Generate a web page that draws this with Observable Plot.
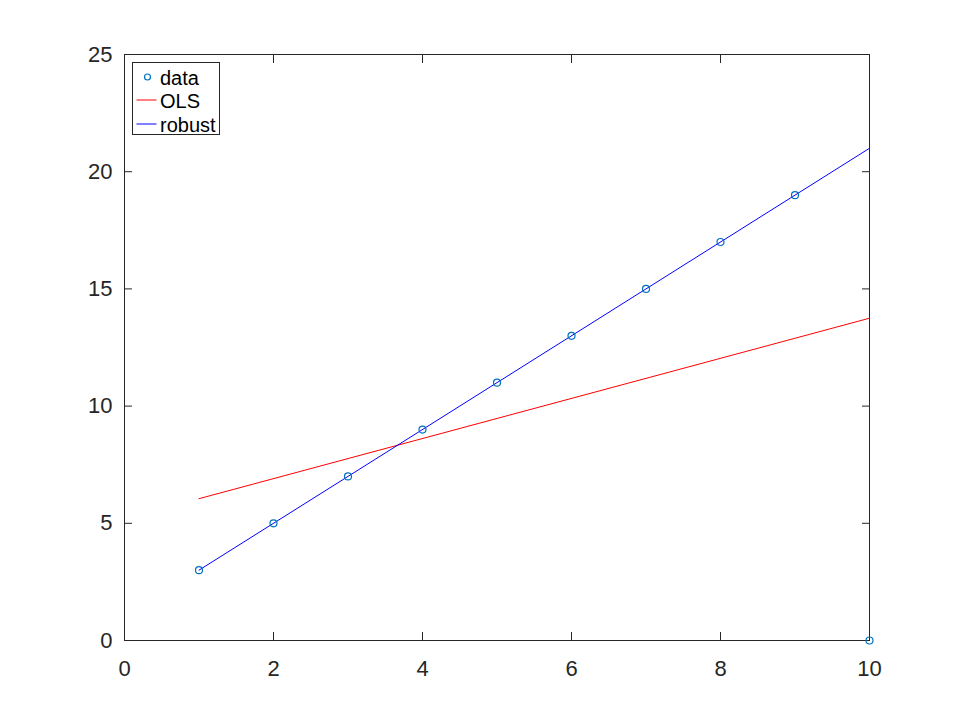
<!DOCTYPE html>
<html>
<head>
<meta charset="utf-8">
<script src="https://cdn.jsdelivr.net/npm/d3@7"></script>
<script src="https://cdn.jsdelivr.net/npm/@observablehq/plot@0.6"></script>
<style>
  body { margin: 0; background: #fff; }
  #wrap { position: relative; width: 960px; height: 720px; font-family: "Liberation Sans", Arial, sans-serif; }
  #legend { position: absolute; left: 132px; top: 62px; width: 88px; height: 73px; border: 1px solid #262626; background: #fff; box-sizing: border-box; }
  #legend svg { position: absolute; left: 0; top: 0; }
</style>
</head>
<body>
<div id="wrap"></div>
<script>
const dataX = [1, 2, 3, 4, 5, 6, 7, 8, 9, 10];
const dataY = [3, 5, 7, 9, 11, 13, 15, 17, 19, 0];
const fitX = [1, 10];
const olsY = [6.05, 13.75];
const robustY = [3, 21];
const xTicks = [0, 2, 4, 6, 8, 10];
const yTicks = [0, 5, 10, 15, 20, 25];
const legendLabels = ["data", "OLS", "robust"];

const points = dataX.map((x, i) => ({x, y: dataY[i]}));
const ols = fitX.map((x, i) => ({x, y: olsY[i]}));
const robust = fitX.map((x, i) => ({x, y: robustY[i]}));

const axisColor = "#262626";
const font = 22;

const chart = Plot.plot({
  width: 960,
  height: 720,
  marginLeft: 124,
  marginRight: 91,
  marginTop: 54,
  marginBottom: 80,
  style: {fontFamily: '"Liberation Sans", Arial, sans-serif', fontSize: font + "px", color: axisColor, background: "#fff"},
  x: {domain: [0, 10], ticks: xTicks},
  y: {domain: [0, 25], ticks: yTicks},
  marks: [
    Plot.frame({stroke: axisColor}),
    Plot.axisX({ticks: xTicks, tickSize: 0, tickPadding: 20, label: null, fontSize: font, fill: axisColor}),
    Plot.axisY({ticks: yTicks, tickSize: 0, tickPadding: 12, label: null, fontSize: font, fill: axisColor}),
    Plot.axisX({ticks: xTicks, tickSize: -8, tickFormat: () => "", label: null, stroke: axisColor}),
    Plot.axisY({ticks: yTicks, tickSize: -8, tickFormat: () => "", label: null, stroke: axisColor}),
    Plot.axisX({ticks: xTicks, anchor: "top", tickSize: -8, tickFormat: () => "", label: null, stroke: axisColor}),
    Plot.axisY({ticks: yTicks, anchor: "right", tickSize: -8, tickFormat: () => "", label: null, stroke: axisColor}),
    Plot.line(ols, {x: "x", y: "y", stroke: "#ff0000", strokeWidth: 1}),
    Plot.line(robust, {x: "x", y: "y", stroke: "#0000ff", strokeWidth: 1}),
    Plot.dot(points, {x: "x", y: "y", r: 3.5, stroke: "#0072bd", fill: "none", strokeWidth: 1.2})
  ]
});

const wrap = document.getElementById("wrap");
wrap.appendChild(chart);

const legend = document.createElement("div");
legend.id = "legend";
const ns = "http://www.w3.org/2000/svg";
const svg = document.createElementNS(ns, "svg");
svg.setAttribute("width", 88);
svg.setAttribute("height", 73);
const rowsY = [14, 37, 61];
legendLabels.forEach((lab, i) => {
  const cy = rowsY[i];
  if (i === 0) {
    const c = document.createElementNS(ns, "circle");
    c.setAttribute("cx", 14.5); c.setAttribute("cy", cy);
    c.setAttribute("r", 3); c.setAttribute("fill", "none");
    c.setAttribute("stroke", "#0072bd"); c.setAttribute("stroke-width", 1.2);
    svg.appendChild(c);
  } else {
    const l = document.createElementNS(ns, "line");
    l.setAttribute("x1", 3.5); l.setAttribute("x2", 23.5);
    l.setAttribute("y1", cy); l.setAttribute("y2", cy);
    l.setAttribute("stroke", i === 1 ? "#ff0000" : "#0000ff");
    svg.appendChild(l);
  }
  const t = document.createElementNS(ns, "text");
  t.setAttribute("x", 27); t.setAttribute("y", cy + 8);
  t.setAttribute("font-size", 20);
  t.setAttribute("fill", "#000");
  t.setAttribute("font-family", '"Liberation Sans", Arial, sans-serif');
  t.textContent = lab;
  svg.appendChild(t);
});
legend.appendChild(svg);
wrap.appendChild(legend);
</script>
</body>
</html>
